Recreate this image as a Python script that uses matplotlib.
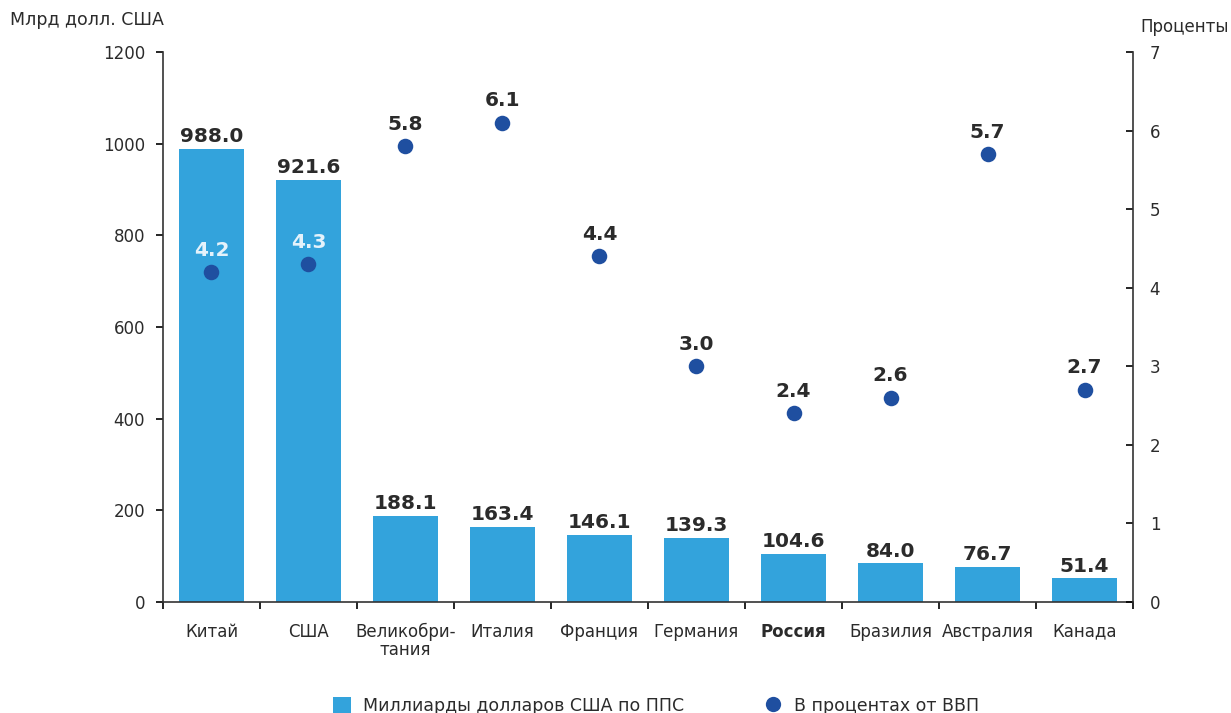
import matplotlib
matplotlib.use("Agg")
import matplotlib.pyplot as plt
from matplotlib.lines import Line2D
from matplotlib.patches import Patch
import numpy as np

plt.rcParams['font.family'] = ['DejaVu Sans']

countries = ["Китай", "США", "Великобри-\nтания", "Италия", "Франция", "Германия",
             "Россия", "Бразилия", "Австралия", "Канада"]
spending_bn = [988.0, 921.6, 188.1, 163.4, 146.1, 139.3, 104.6, 84.0, 76.7, 51.4]
share_gdp = [4.2, 4.3, 5.8, 6.1, 4.4, 3.0, 2.4, 2.6, 5.7, 2.7]
left_ticks = [0, 200, 400, 600, 800, 1000, 1200]
right_ticks = [0, 1, 2, 3, 4, 5, 6, 7]

bar_color = "#33a3dc"
dot_color = "#1f4fa0"
text_color = "#2b2b2b"
fs = 12

fig = plt.figure(figsize=(12.31, 7.13), dpi=100)
ax = fig.add_axes([0.1324, 0.1557, 0.9204 - 0.1324, 0.927 - 0.1557])
ax2 = ax.twinx()

x = np.arange(len(countries))
ax.bar(x, spending_bn, width=0.68, color=bar_color, zorder=2)
ax.set_xlim(-0.5, len(countries) - 0.5)
ax.set_ylim(0, 1200)
ax.set_yticks(left_ticks)
ax.set_yticklabels([str(t) for t in left_ticks], fontsize=fs, color=text_color)

ax.set_xticks(x)
ax.set_xticklabels(countries, fontsize=fs, color=text_color, linespacing=1.0)
ax.set_xticks(np.arange(-0.5, len(countries)), minor=True)
ax.tick_params(axis='x', which='major', length=0, pad=15)
ax.tick_params(axis='x', which='minor', length=5, width=1.2, direction='out')
ax.tick_params(axis='y', length=5, width=1.2, direction='out', pad=8)
for lbl in ax.get_xticklabels():
    if lbl.get_text() == "Россия":
        lbl.set_fontweight('bold')

for v, xi in zip(spending_bn, x):
    ax.annotate(f"{v:.1f}", (xi, v), xytext=(0, 2), textcoords="offset points",
                ha='center', va='bottom', fontsize=14.5, fontweight='bold', color=text_color)

ax2.set_ylim(0, 7)
ax2.scatter(x, share_gdp, s=125, color=dot_color, zorder=3, linewidths=0)
ax2.set_yticks(right_ticks)
ax2.set_yticklabels([str(t) for t in right_ticks], fontsize=fs, color=text_color)
ax2.tick_params(axis='y', length=5, width=1.2, direction='in', pad=12)

for i, (v, xi) in enumerate(zip(share_gdp, x)):
    inside = spending_bn[i] / 1200 > v / 7
    ax2.annotate(f"{v:.1f}", (xi, v), xytext=(0, 9), textcoords="offset points",
                 ha='center', va='bottom', fontsize=14.5, fontweight='bold',
                 color="#e4f2fb" if inside else text_color)

for a in (ax, ax2):
    a.spines['top'].set_visible(False)
    for s in ('left', 'right', 'bottom'):
        a.spines[s].set_linewidth(1.2)
        a.spines[s].set_color("#333333")
ax.spines['right'].set_visible(False)
ax2.spines['left'].set_visible(False)
ax2.spines['bottom'].set_visible(False)

fig.text(10 / 1231, 1 - 20 / 713, "Млрд долл. США", fontsize=12.5, color=text_color,
         ha='left', va='center')
fig.text(1229 / 1231, 1 - 27 / 713, "Проценты", fontsize=fs, color=text_color,
         ha='right', va='center')

handles = [Patch(facecolor=bar_color, edgecolor='none'),
           Line2D([], [], marker='o', linestyle='none', color=dot_color, markersize=11,
                  markeredgewidth=0)]
fig.legend(handles, ["Миллиарды долларов США по ППС", "В процентах от ВВП"],
           loc='center', bbox_to_anchor=(0.533, 1 - 706 / 713), ncol=2, frameon=False,
           fontsize=12.5, handlelength=1.05, handleheight=1.05, handletextpad=0.7,
           columnspacing=4.6, labelcolor=text_color)

fig.savefig("out.png", dpi=100)
